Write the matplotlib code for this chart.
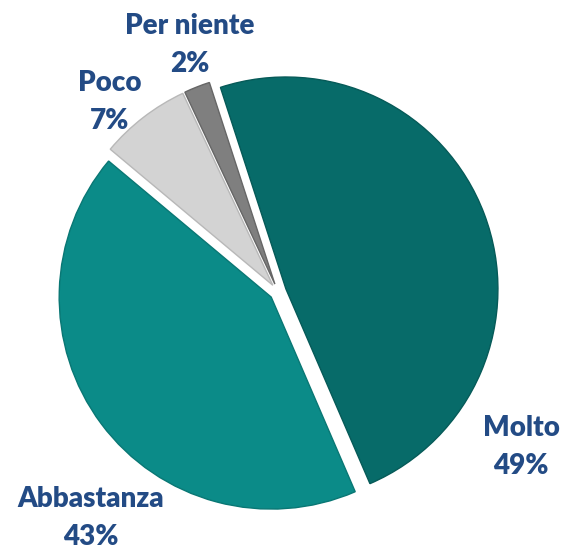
import matplotlib.pyplot as plt

# Data
categories = ["Molto", "Abbastanza", "Poco", "Per niente"]
percent = [49, 43, 7, 2]
colors = ["#076b69", "#0b8b88", "#d3d3d3", "#7f7f7f"]
edges = ["#065a58", "#097774", "#b8b8b8", "#666666"]

# label centres in pixels (x, y from top), figure is 567x551
label_px = [(521, 447), (91, 518), (110, 102), (190, 45)]

W, H = 567, 551
cx, cy, r = 278, 292, 212   # pie centre and radius in pixels

fig = plt.figure(figsize=(W / 100, H / 100), dpi=100)
ax = fig.add_axes([0, 0, 1, 1])

wedges, _ = ax.pie(percent, colors=colors, startangle=108, counterclock=False,
                   explode=[0.04] * len(percent), radius=1,
                   wedgeprops=dict(linewidth=1.0))
for w, e in zip(wedges, edges):
    w.set_edgecolor(e)

ax.set_xlim(-cx / r, (W - cx) / r)
ax.set_ylim((cy - H) / r, cy / r)
ax.set_aspect("equal")
ax.axis("off")

# Labels
for name, p, (px, py) in zip(categories, percent, label_px):
    ax.text((px - cx) / r, (cy - py) / r, f"{name}\n{p}%", ha="center", va="center",
            fontsize=20, fontweight="heavy", family=["Lato", "DejaVu Sans"],
            color="#234b85", linespacing=1.55)

fig.savefig("out.png", dpi=100)
